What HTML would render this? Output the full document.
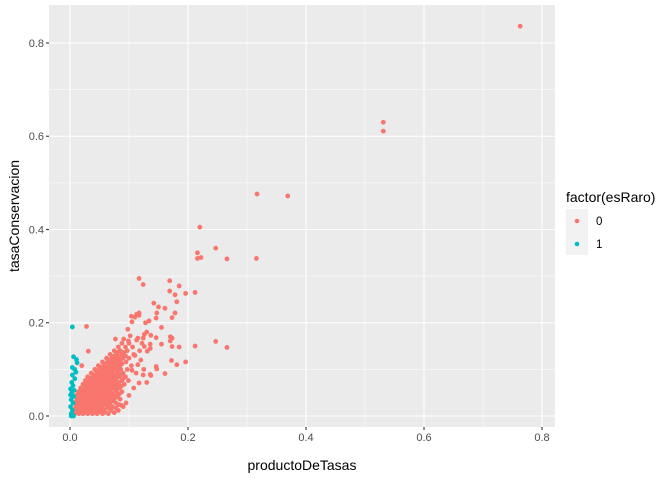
<!DOCTYPE html>
<html><head><meta charset="utf-8"><style>
body{margin:0;background:#fff;}
svg{display:block;font-family:"Liberation Sans",sans-serif;}
</style></head><body>
<svg id="chart" width="672" height="480">
<rect x="0" y="0" width="672" height="480" fill="#fff"/>
<rect x="49" y="5" width="506" height="422" fill="#EBEBEB"/>
<g id="grid"></g><g id="ticks"></g><g id="pts"></g>
<text x="302" y="470" text-anchor="middle" font-size="14" fill="#000">productoDeTasas</text>
<text transform="translate(19,216) rotate(-90)" text-anchor="middle" font-size="14" fill="#000">tasaConservacion</text>
<g>
<text x="566" y="202" font-size="14" fill="#000">factor(esRaro)</text>
<rect x="566" y="209" width="22" height="46" fill="#F2F2F2"/>
<circle cx="577" cy="221" r="2.3" fill="#F8766D"/>
<circle cx="577" cy="244" r="2.3" fill="#00BFC4"/>
<text x="596" y="225" font-size="11.5" fill="#000">0</text>
<text x="596" y="248" font-size="11.5" fill="#000">1</text>
</g>
</svg>
<script>
const xTicks=[0,0.2,0.4,0.6,0.8];
const xTickLabels=["0.0","0.2","0.4","0.6","0.8"];
const yTicks=[0,0.2,0.4,0.6,0.8];
const yTickLabels=["0.0","0.2","0.4","0.6","0.8"];
const xMinor=[0.1,0.3,0.5,0.7];
const yMinor=[0.1,0.3,0.5,0.7];
const redOutliers=[[0.763,0.836],[0.531,0.630],[0.531,0.611],[0.317,0.476],[0.369,0.472],[0.220,0.405],
[0.247,0.360],[0.216,0.350],[0.216,0.338],[0.222,0.340],[0.266,0.337],[0.316,0.338],[0.117,0.295],[0.124,0.282],
[0.169,0.290],[0.185,0.279],[0.169,0.268],[0.178,0.260],[0.196,0.263],[0.212,0.265],[0.181,0.245],[0.142,0.242],
[0.150,0.234],[0.161,0.231],[0.147,0.221],[0.178,0.221],[0.173,0.211],[0.146,0.210],[0.117,0.221],[0.113,0.218],
[0.117,0.216],[0.104,0.214],[0.110,0.212],[0.105,0.202],[0.134,0.204],[0.128,0.200],[0.028,0.192],[0.155,0.190],
[0.098,0.186],[0.130,0.180],[0.126,0.175],[0.124,0.167],[0.115,0.167],[0.137,0.173],[0.146,0.168],[0.170,0.170],
[0.173,0.167],[0.170,0.161],[0.102,0.172],[0.077,0.165],[0.091,0.165],[0.099,0.161],[0.113,0.163],[0.247,0.160],
[0.266,0.147],[0.212,0.150],[0.185,0.148],[0.173,0.149],[0.155,0.154],[0.136,0.154],[0.126,0.149],[0.136,0.145],
[0.131,0.139],[0.196,0.116],[0.181,0.110],[0.172,0.119],[0.146,0.106],[0.147,0.101],[0.161,0.091],[0.136,0.089],
[0.137,0.087],[0.124,0.088],[0.130,0.072],[0.117,0.071],[0.087,0.023],[0.081,0.064],[0.105,0.098],[0.031,0.139],
[0.110,0.130],[0.120,0.120],[0.115,0.110],[0.125,0.100]];
const redBlob=[
[0.008,0.005],[0.015,0.005],[0.022,0.005],[0.03,0.005],[0.038,0.005],[0.046,0.005],[0.055,0.005],[0.065,0.005],
[0.006,0.012],[0.012,0.012],[0.019,0.012],[0.026,0.012],[0.033,0.012],[0.041,0.012],[0.049,0.012],[0.058,0.012],[0.07,0.012],[0.082,0.012],
[0.01,0.02],[0.017,0.02],[0.024,0.02],[0.031,0.02],[0.039,0.02],[0.047,0.02],[0.054,0.02],[0.062,0.02],[0.072,0.02],[0.09,0.02],
[0.008,0.028],[0.015,0.028],[0.022,0.028],[0.029,0.028],[0.036,0.028],[0.044,0.028],[0.052,0.028],[0.06,0.028],[0.068,0.028],[0.078,0.028],[0.095,0.028],
[0.012,0.036],[0.019,0.036],[0.026,0.036],[0.034,0.036],[0.041,0.036],[0.049,0.036],[0.057,0.036],[0.065,0.036],[0.074,0.036],[0.085,0.036],
[0.01,0.044],[0.017,0.044],[0.024,0.044],[0.031,0.044],[0.039,0.044],[0.046,0.044],[0.054,0.044],[0.062,0.044],[0.071,0.044],[0.081,0.044],[0.1,0.044],
[0.014,0.052],[0.021,0.052],[0.028,0.052],[0.036,0.052],[0.043,0.052],[0.051,0.052],[0.059,0.052],[0.067,0.052],[0.077,0.052],[0.088,0.052],
[0.018,0.06],[0.025,0.06],[0.032,0.06],[0.04,0.06],[0.048,0.06],[0.056,0.06],[0.064,0.06],[0.073,0.06],[0.084,0.06],[0.108,0.06],
[0.022,0.068],[0.029,0.068],[0.037,0.068],[0.045,0.068],[0.053,0.068],[0.061,0.068],[0.07,0.068],[0.079,0.068],[0.092,0.068],
[0.026,0.076],[0.034,0.076],[0.042,0.076],[0.05,0.076],[0.058,0.076],[0.066,0.076],[0.076,0.076],[0.088,0.076],[0.099,0.076],
[0.03,0.084],[0.038,0.084],[0.046,0.084],[0.055,0.084],[0.063,0.084],[0.072,0.084],[0.083,0.084],[0.094,0.084],
[0.036,0.092],[0.045,0.092],[0.053,0.092],[0.062,0.092],[0.07,0.092],[0.08,0.092],[0.09,0.092],[0.112,0.092],
[0.042,0.1],[0.05,0.1],[0.058,0.1],[0.067,0.1],[0.076,0.1],[0.086,0.1],[0.097,0.1],
[0.02,0.108],[0.048,0.108],[0.057,0.108],[0.066,0.108],[0.075,0.108],[0.085,0.108],[0.104,0.108],
[0.055,0.116],[0.064,0.116],[0.073,0.116],[0.082,0.116],[0.095,0.116],
[0.062,0.124],[0.071,0.124],[0.08,0.124],[0.09,0.124],[0.1,0.124],
[0.068,0.132],[0.078,0.132],[0.088,0.132],[0.108,0.132],
[0.075,0.14],[0.085,0.14],[0.097,0.14],[0.118,0.14],
[0.082,0.148],[0.094,0.148],[0.106,0.148],[0.088,0.156],[0.1,0.156],[0.122,0.156]];
const redBlobFill=[
[0.011,0.008],[0.019,0.009],[0.027,0.008],[0.034,0.009],[0.042,0.008],[0.051,0.009],[0.06,0.008],[0.075,0.007],
[0.009,0.016],[0.016,0.016],[0.023,0.017],[0.03,0.016],[0.037,0.016],[0.045,0.017],[0.052,0.016],[0.066,0.016],[0.078,0.017],
[0.013,0.024],[0.02,0.024],[0.027,0.025],[0.035,0.024],[0.043,0.024],[0.05,0.025],[0.058,0.024],[0.066,0.024],[0.083,0.024],
[0.011,0.032],[0.018,0.032],[0.025,0.033],[0.033,0.032],[0.04,0.032],[0.048,0.032],[0.056,0.033],[0.064,0.032],[0.072,0.032],
[0.014,0.04],[0.022,0.04],[0.029,0.041],[0.037,0.04],[0.045,0.04],[0.053,0.041],[0.061,0.04],[0.069,0.04],[0.078,0.04],
[0.018,0.048],[0.026,0.048],[0.033,0.049],[0.041,0.048],[0.049,0.048],[0.057,0.049],[0.065,0.048],[0.074,0.048],[0.084,0.048],
[0.022,0.056],[0.029,0.056],[0.037,0.057],[0.045,0.056],[0.053,0.056],[0.061,0.057],[0.069,0.056],[0.079,0.056],
[0.026,0.064],[0.034,0.064],[0.041,0.065],[0.049,0.064],[0.057,0.064],[0.066,0.065],[0.075,0.064],[0.087,0.064],
[0.031,0.072],[0.039,0.072],[0.047,0.073],[0.055,0.072],[0.063,0.072],[0.073,0.073],[0.083,0.072],
[0.035,0.08],[0.043,0.08],[0.052,0.081],[0.061,0.08],[0.07,0.08],[0.079,0.081],[0.09,0.08],
[0.041,0.088],[0.05,0.088],[0.058,0.089],[0.067,0.088],[0.076,0.088],[0.086,0.089],
[0.047,0.096],[0.055,0.096],[0.064,0.097],[0.072,0.096],[0.082,0.096],
[0.053,0.104],[0.062,0.104],[0.071,0.105],[0.08,0.104],[0.059,0.112],[0.069,0.112],[0.078,0.113],[0.088,0.112],
[0.067,0.12],[0.076,0.12],[0.086,0.121],[0.074,0.128],[0.083,0.128],[0.094,0.129],[0.08,0.136],[0.091,0.136]];
const tealPoints=[[0.002,0.005],[0.004,0.012],[0.001,0.02],[0.005,0.028],[0.002,0.035],[0.006,0.042],[0.003,0.05],
[0.001,0.058],[0.005,0.065],[0.003,0.072],[0.008,0.08],[0.004,0.088],[0.01,0.094],[0.004,0.104],[0.008,0.1],
[0.011,0.121],[0.012,0.114],[0.006,0.127],[0.004,0.191],[0.002,0.0],[0.006,0.0],[0.001,0.045],[0.007,0.055]];

const NS="http://www.w3.org/2000/svg";
const X0=49,X1=555,Y0=5,Y1=427;
const xMin=-0.0356,xMax=0.822,yMin=-0.0236,yMax=0.8815;
function sx(v){return X0+(v-xMin)/(xMax-xMin)*(X1-X0);}
function sy(v){return Y1-(v-yMin)/(yMax-yMin)*(Y1-Y0);}
function mk(tag,attrs,parent){const e=document.createElementNS(NS,tag);for(const k in attrs)e.setAttribute(k,attrs[k]);parent.appendChild(e);return e;}
const grid=document.getElementById('grid'),ticks=document.getElementById('ticks'),pts=document.getElementById('pts');
xMinor.forEach(v=>{const e=mk('line',{x1:sx(v),x2:sx(v),y1:Y0,y2:Y1,stroke:'#fff','stroke-width':0.55},grid);

});
yMinor.forEach(v=>{const e=mk('line',{x1:X0,x2:X1,y1:sy(v),y2:sy(v),stroke:'#fff','stroke-width':0.55},grid);

});
xTicks.forEach((v,i)=>{const e=mk('line',{x1:sx(v),x2:sx(v),y1:Y0,y2:Y1,stroke:'#fff','stroke-width':1.1},grid);


const t=mk('line',{x1:sx(v),x2:sx(v),y1:Y1,y2:Y1+3,stroke:'#333','stroke-width':1.1},ticks);


const l=mk('text',{x:sx(v),y:Y1+14,'text-anchor':'middle','font-size':11,fill:'#4D4D4D'},ticks);l.textContent=xTickLabels[i];

});
yTicks.forEach((v,i)=>{const e=mk('line',{x1:X0,x2:X1,y1:sy(v),y2:sy(v),stroke:'#fff','stroke-width':1.1},grid);


const t=mk('line',{x1:X0-3,x2:X0,y1:sy(v),y2:sy(v),stroke:'#333','stroke-width':1.1},ticks);


const l=mk('text',{x:X0-5,y:sy(v)+4,'text-anchor':'end','font-size':11,fill:'#4D4D4D'},ticks);l.textContent=yTickLabels[i];

});
function drawPts(arr,color,name){arr.forEach(p=>{const c=mk('circle',{cx:sx(p[0]),cy:sy(p[1]),r:2.4,fill:color},pts);

});}
drawPts(redBlob,'#F8766D','point-esraro-0');
drawPts(redBlobFill,'#F8766D','point-esraro-0');
drawPts(redOutliers,'#F8766D','point-esraro-0');
drawPts(tealPoints,'#00BFC4','point-esraro-1');
</script>
</body></html>
